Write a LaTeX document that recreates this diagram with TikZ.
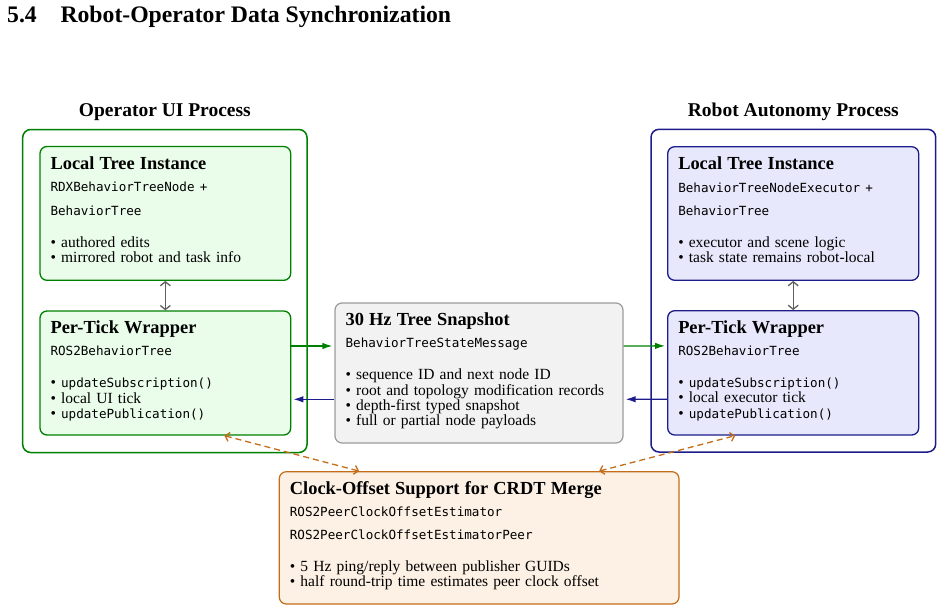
\documentclass[tikz,border=0pt]{standalone}
\usepackage{fontspec}
\setmainfont{Liberation Serif}
\setmonofont{DejaVu Sans Mono}
\usetikzlibrary{arrows.meta,positioning}
\definecolor{gline}{RGB}{0,128,0}
\definecolor{gfill}{RGB}{234,252,234}
\definecolor{bline}{RGB}{28,28,138}
\definecolor{bfill}{RGB}{232,232,252}
\definecolor{cline}{RGB}{155,155,155}
\definecolor{cfill}{RGB}{242,242,242}
\definecolor{oline}{RGB}{196,108,24}
\definecolor{ofill}{RGB}{253,241,229}
\definecolor{dgray}{RGB}{95,95,95}
\newcommand\bodyfont{\fontsize{15.5pt}{15.3pt}\selectfont}
\newcommand\hdfont{\bfseries\fontsize{18.4pt}{15.3pt}\selectfont}
\newcommand\mfont{\ttfamily\fontsize{12.6pt}{15.3pt}\selectfont}
\newcommand\ptfont{\bfseries\fontsize{19.5pt}{20pt}\selectfont}
\newcommand\ttlfont{\bfseries\fontsize{23.7pt}{26pt}\selectfont}
\newcommand\bul{\textbullet\ }
\tikzset{
  outerbox/.style={draw, rounded corners=8pt, line width=1.5pt, inner sep=0pt},
  innerbox/.style={draw, rounded corners=7pt, line width=1.3pt, inner sep=0pt},
  txt/.style={anchor=base west, inner sep=0pt, text width=#1, font=\bodyfont, align=left},
  ptitle/.style={anchor=base, inner sep=0pt, font=\ptfont},
  dblarrow/.style={draw=dgray, line width=1.3pt, {Straight Barb[length=4pt,width=10pt]}-{Straight Barb[length=4pt,width=10pt]}},
  flowarrow/.style={line width=1.3pt, shorten >=2pt, -{Latex[length=10pt,width=6.5pt]}},
  syncarrow/.style={draw=oline, line width=1.3pt, dash pattern=on 6pt off 4pt, {Straight Barb[length=4pt,width=9pt]}-{Straight Barb[length=4pt,width=9pt]}}
}
\begin{document}
\begin{tikzpicture}[x=1pt,y=-1pt]
\useasboundingbox (0,0) rectangle (943,611);
% title
\node[anchor=base west, inner sep=0pt, font=\ttlfont] (title) at (7,22.7) {5.4\hspace{1em}Robot-Operator Data Synchronization};
% outer process boxes
\node[outerbox, draw=gline, minimum width=284.3pt, minimum height=323pt] (lo) at (164.85,291) {};
\node[outerbox, draw=bline, minimum width=284.7pt, minimum height=322.7pt] (ro) at (793.35,290.65) {};
\node[ptitle] (lot) at ([yshift=12.5pt]lo.north) {Operator UI Process};
\node[ptitle] (rot) at ([yshift=12.5pt]ro.north) {Robot Autonomy Process};
% inner boxes
\node[innerbox, draw=gline, fill=gfill, minimum width=250.7pt, minimum height=133.8pt] (lt) at (165.35,213.4) {};
\node[innerbox, draw=gline, fill=gfill, minimum width=250.7pt, minimum height=124pt] (lb) at (165.35,373) {};
\node[innerbox, draw=bline, fill=bfill, minimum width=251pt, minimum height=133.6pt] (rt) at (793.2,213.5) {};
\node[innerbox, draw=bline, fill=bfill, minimum width=251pt, minimum height=124.3pt] (rb) at (793.2,372.85) {};
\node[innerbox, draw=cline, fill=cfill, line width=1.2pt, minimum width=288pt, minimum height=140pt] (snap) at (479,373) {};
\node[innerbox, draw=oline, fill=ofill, line width=1.2pt, minimum width=399.7pt, minimum height=132.3pt] (clk) at (479.15,537.85) {};
% texts
\node[txt=240pt] (ltt) at ([xshift=11pt,yshift=-23.5pt]lt.north west) {%
{\hdfont Local Tree Instance}\par\vskip7.2pt
{\mfont RDXBehaviorTreeNode +}\par\vskip8.2pt
{\mfont BehaviorTree}\par\vskip16.7pt
\bul authored edits\par
\bul mirrored robot and task info};
\node[txt=240pt] (lbt) at ([xshift=11pt,yshift=-23pt]lb.north west) {%
{\hdfont Per-Tick Wrapper}\par\vskip7.2pt
{\mfont ROS2BehaviorTree}\par\vskip16.7pt
\bul{\mfont updateSubscription()}\par
\bul local UI tick\par
\bul{\mfont updatePublication()}};
\node[txt=240pt] (rtt) at ([xshift=11pt,yshift=-23.5pt]rt.north west) {%
{\hdfont Local Tree Instance}\par\vskip7.2pt
{\mfont BehaviorTreeNodeExecutor +}\par\vskip8.2pt
{\mfont BehaviorTree}\par\vskip16.7pt
\bul executor and scene logic\par
\bul task state remains robot-local};
\node[txt=240pt] (rbt) at ([xshift=11pt,yshift=-23pt]rb.north west) {%
{\hdfont Per-Tick Wrapper}\par\vskip7.2pt
{\mfont ROS2BehaviorTree}\par\vskip16.7pt
\bul{\mfont updateSubscription()}\par
\bul local executor tick\par
\bul{\mfont updatePublication()}};
\node[txt=275pt] (snapt) at ([xshift=11pt,yshift=-22.7pt]snap.north west) {%
{\hdfont 30 Hz Tree Snapshot}\par\vskip7.2pt
{\mfont BehaviorTreeStateMessage}\par\vskip17pt
\bul sequence ID and next node ID\par
\bul root and topology modification records\par
\bul depth-first typed snapshot\par
\bul full or partial node payloads};
\node[txt=385pt] (clkt) at ([xshift=11pt,yshift=-23.3pt]clk.north west) {%
{\hdfont Clock-Offset Support for CRDT Merge}\par\vskip6.5pt
{\mfont ROS2PeerClockOffsetEstimator}\par\vskip8pt
{\mfont ROS2PeerClockOffsetEstimatorPeer}\par\vskip16.5pt
\bul 5 Hz ping/reply between publisher GUIDs\par
\bul half round-trip time estimates peer clock offset};
% connectors
\draw[dblarrow] (lt.south) -- (lb.north);
\draw[dblarrow] (rt.south) -- (rb.north);
\draw[flowarrow, gline] ([yshift=27pt]lb.east) -- ([yshift=27pt]snap.west);
\draw[flowarrow, gline] ([yshift=27pt]snap.east) -- ([yshift=27pt]rb.west);
\draw[flowarrow, bline] ([yshift=-26.3pt]rb.west) -- ([yshift=-26.3pt]snap.east);
\draw[flowarrow, bline] ([yshift=-26.3pt]snap.west) -- ([yshift=-26.3pt]lb.east);
\draw[syncarrow] ([xshift=59pt]lb.south) -- ([xshift=-120pt]clk.north);
\draw[syncarrow] ([xshift=120pt]clk.north) -- ([xshift=-58pt]rb.south);
\end{tikzpicture}
\end{document}
